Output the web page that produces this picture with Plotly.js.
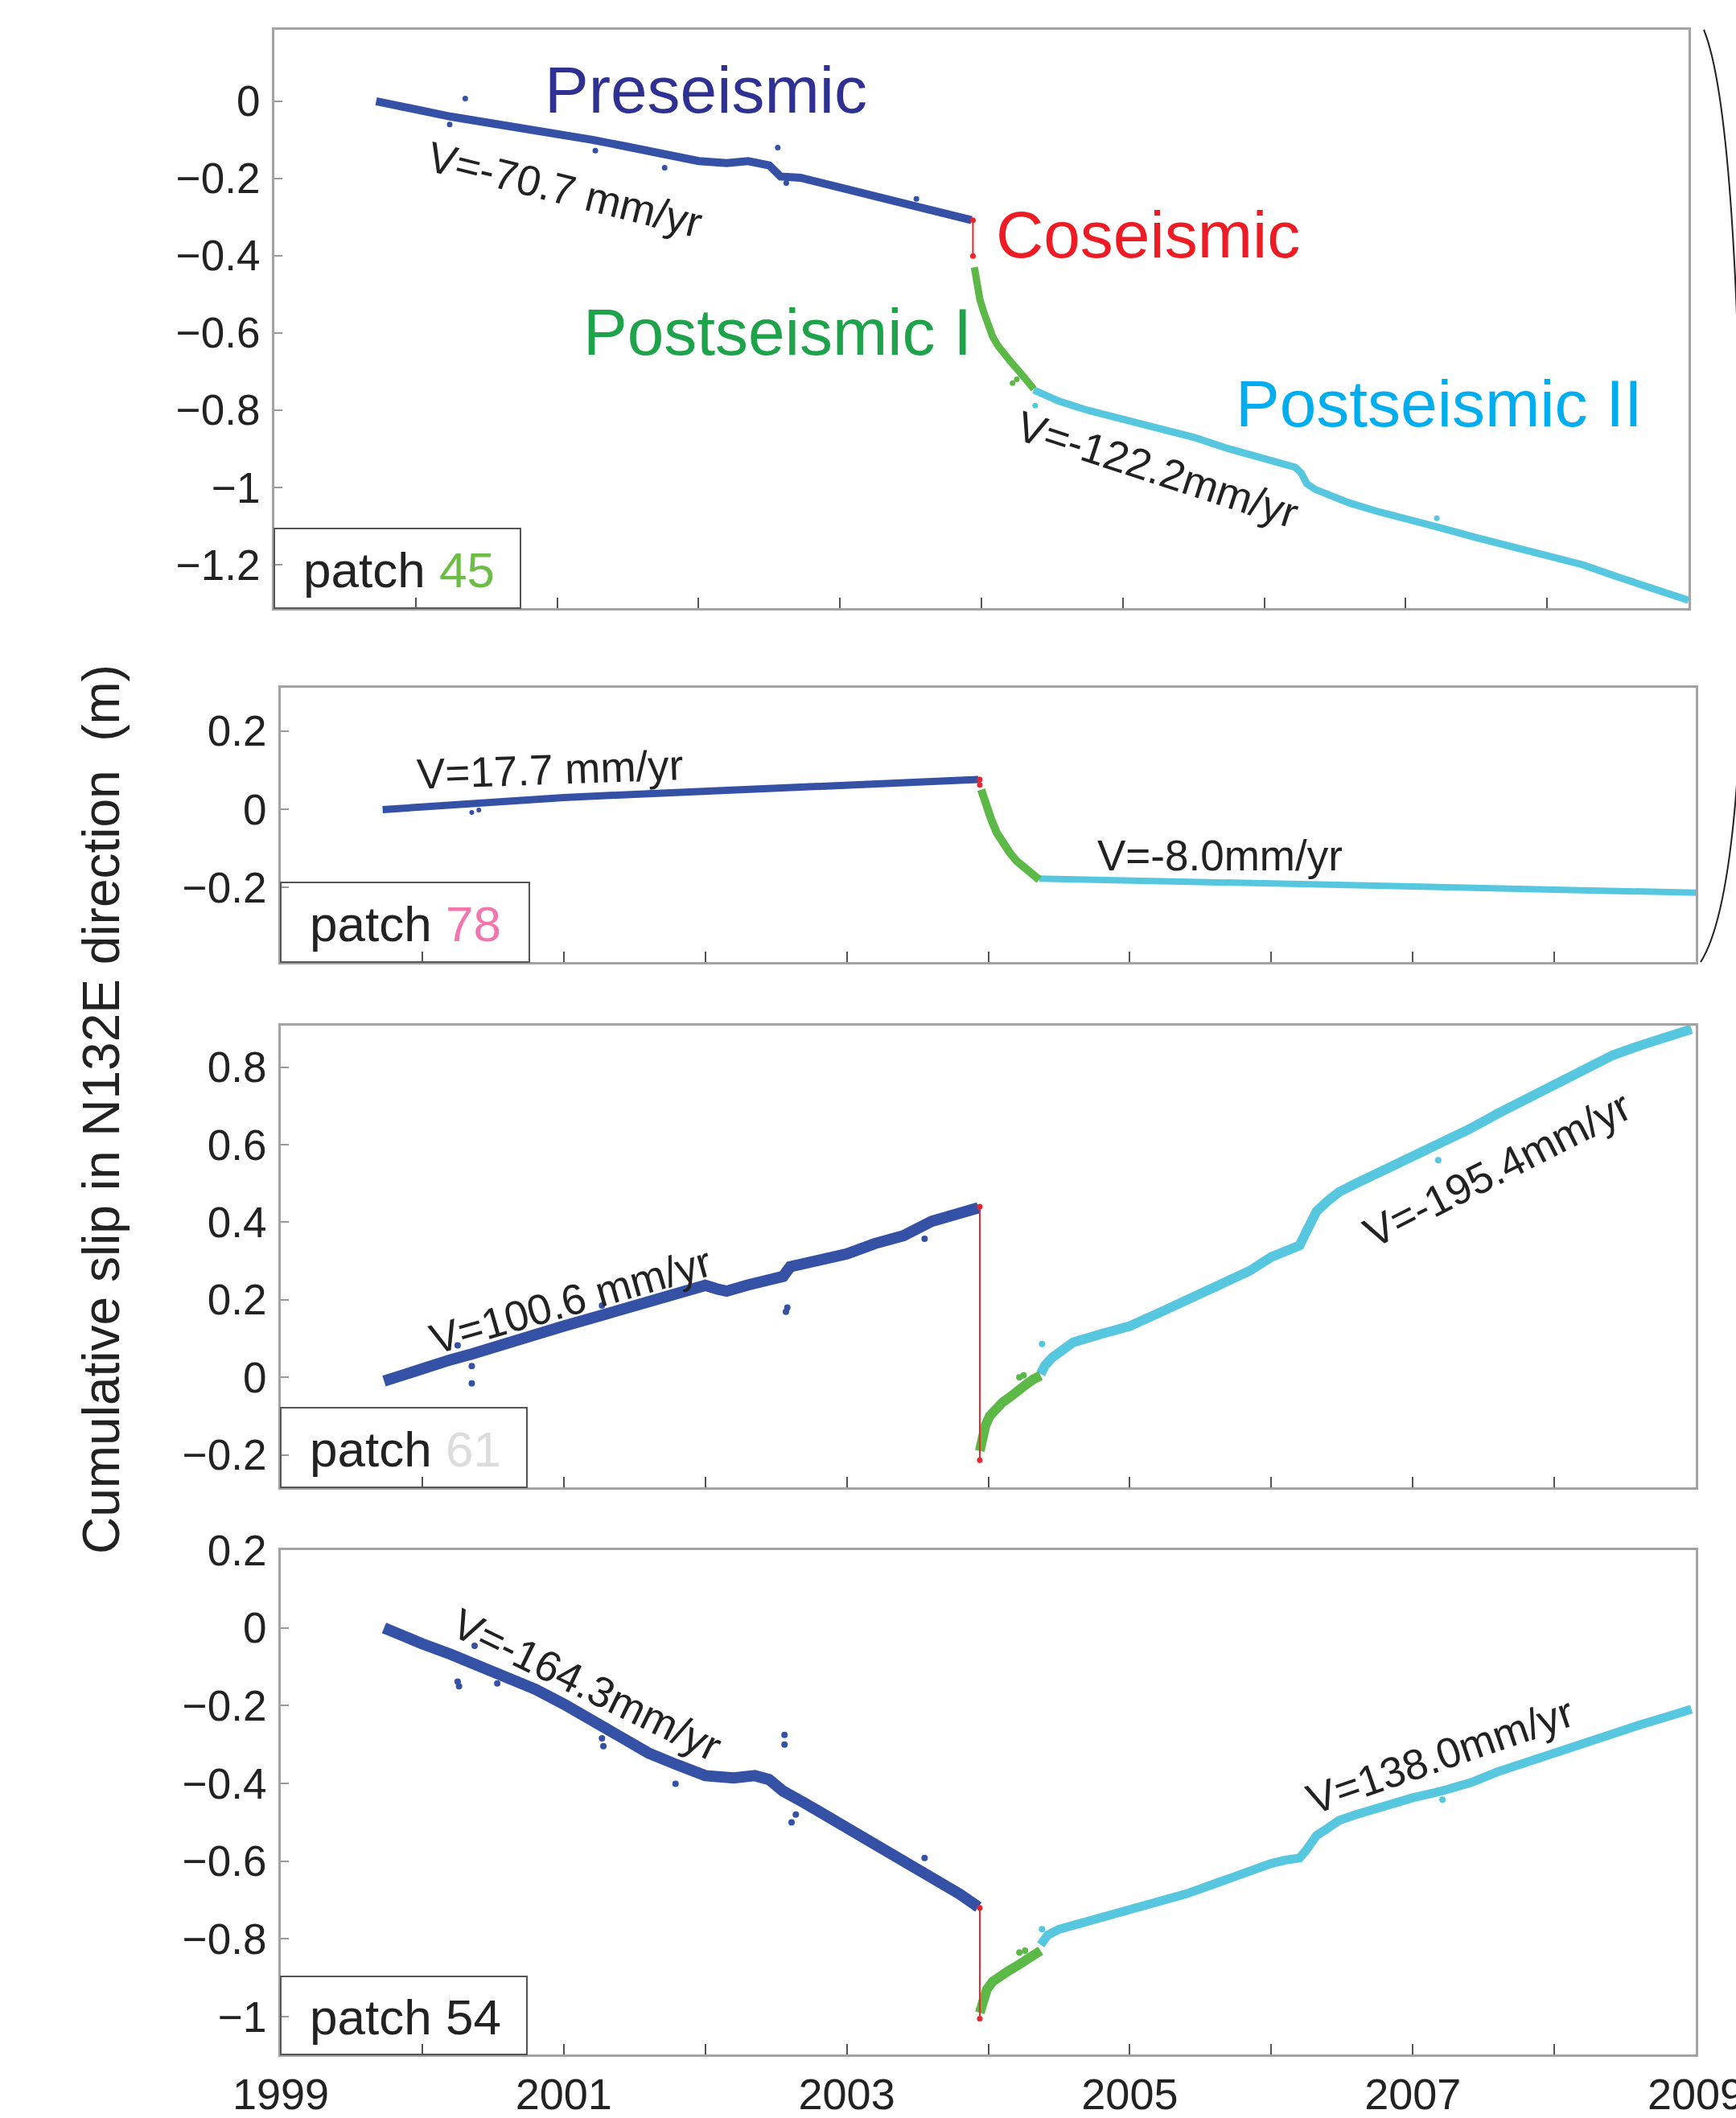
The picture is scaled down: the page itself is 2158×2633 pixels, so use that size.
<!DOCTYPE html>
<html>
<head>
<meta charset="utf-8">
<script src="https://cdn.plot.ly/plotly-3.0.1.min.js"></script>
<style>
  html, body { margin: 0; padding: 0; background: #ffffff; }
  #chart { width: 2158px; height: 2633px; }
</style>
</head>
<body>
<div id="chart"></div>
<script>
// ---- Cumulative slip time series (m) for four fault patches ----
// Phases: preseismic (blue), coseismic step (red), postseismic I (green), postseismic II (cyan)

// patch 45
const pre45_t = [1999.72, 2000.0, 2000.25, 2000.5, 2000.75, 2001.0, 2001.25, 2001.5, 2001.75, 2002.0, 2002.2, 2002.35, 2002.5, 2002.58, 2002.72, 2003.0, 2003.27, 2003.54, 2003.78, 2003.93];
const pre45_y = [0.0, -0.022, -0.04, -0.055, -0.069, -0.083, -0.1, -0.118, -0.137, -0.155, -0.16, -0.155, -0.166, -0.195, -0.198, -0.223, -0.249, -0.269, -0.293, -0.308];
const pre45_out_t = [2000.35, 2000.24, 2001.27, 2001.76, 2002.56, 2002.62, 2003.54];
const pre45_out_y = [0.007, -0.06, -0.128, -0.172, -0.12, -0.212, -0.253];
const co45_t = [2003.94, 2003.94];
const co45_y = [-0.308, -0.401];
const postI45_t = [2003.95, 2003.97, 2003.99, 2004.02, 2004.05, 2004.08, 2004.12, 2004.17, 2004.22, 2004.28, 2004.33, 2004.37];
const postI45_y = [-0.43, -0.48, -0.515, -0.55, -0.585, -0.61, -0.635, -0.66, -0.68, -0.705, -0.73, -0.745];
const postI45_out_t = [2004.22, 2004.25];
const postI45_out_y = [-0.73, -0.72];
const postII45_t = [2004.37, 2004.45, 2004.55, 2004.75, 2005.0, 2005.25, 2005.5, 2005.75, 2006.0, 2006.15, 2006.22, 2006.26, 2006.3, 2006.36, 2006.44, 2006.6, 2006.8, 2007.0, 2007.25, 2007.5, 2007.75, 2008.0, 2008.25, 2008.5, 2008.75, 2009.0];
const postII45_y = [-0.748, -0.762, -0.777, -0.8, -0.822, -0.845, -0.87, -0.9, -0.925, -0.94, -0.948, -0.962, -0.99, -1.005, -1.018, -1.04, -1.062, -1.08, -1.105, -1.13, -1.152, -1.175, -1.2, -1.232, -1.262, -1.292];
const postII45_out_t = [2004.38, 2007.22];
const postII45_out_y = [-0.788, -1.08];

// patch 78
const pre78_t = [1999.72, 2000.0, 2000.25, 2000.5, 2000.75, 2001.0, 2001.5, 2002.0, 2002.5, 2003.0, 2003.5, 2003.93];
const pre78_y = [-0.001, 0.006, 0.012, 0.018, 0.024, 0.03, 0.038, 0.045, 0.053, 0.06, 0.068, 0.076];
const pre78_out_t = [2000.35, 2000.4];
const pre78_out_y = [-0.008, -0.002];
const co78_t = [2003.94, 2003.94];
const co78_y = [0.076, 0.062];
const postI78_t = [2003.95, 2003.97, 2003.99, 2004.02, 2004.06, 2004.1, 2004.15, 2004.2, 2004.26, 2004.31, 2004.36];
const postI78_y = [0.05, 0.025, 0.003, -0.025, -0.06, -0.086, -0.11, -0.132, -0.152, -0.168, -0.18];
const postII78_t = [2004.36, 2005.0, 2006.0, 2006.3, 2007.0, 2008.0, 2009.0];
const postII78_y = [-0.177, -0.181, -0.189, -0.191, -0.197, -0.205, -0.213];

// patch 61
const pre61_t = [1999.73, 1999.85, 2000.0, 2000.2, 2000.35, 2000.5, 2000.75, 2001.0, 2001.25, 2001.5, 2001.75, 2002.0, 2002.08, 2002.15, 2002.3, 2002.45, 2002.55, 2002.6, 2002.75, 2003.0, 2003.2, 2003.4, 2003.6, 2003.8, 2003.93];
const pre61_y = [-0.01, 0.005, 0.025, 0.045, 0.06, 0.075, 0.105, 0.132, 0.158, 0.185, 0.21, 0.237, 0.228, 0.222, 0.238, 0.25, 0.26, 0.285, 0.295, 0.318, 0.345, 0.365, 0.402, 0.425, 0.437];
const pre61_out_t = [2000.25, 2000.35, 2000.35, 2001.27, 2002.57, 2002.58, 2003.55];
const pre61_out_y = [0.082, 0.029, -0.016, 0.185, 0.169, 0.18, 0.357];
const co61_t = [2003.94, 2003.94];
const co61_y = [0.44, -0.214];
const postI61_t = [2003.94, 2003.96, 2003.98, 2004.01, 2004.05, 2004.1, 2004.15, 2004.2, 2004.27, 2004.32, 2004.37];
const postI61_y = [-0.19, -0.15, -0.125, -0.1, -0.08, -0.065, -0.052, -0.035, -0.018, -0.005, 0.004];
const postI61_out_t = [2004.22, 2004.25];
const postI61_out_y = [0.0, 0.005];
const postII61_t = [2004.37, 2004.4, 2004.45, 2004.6, 2004.8, 2005.0, 2005.2, 2005.4, 2005.6, 2005.72, 2005.85, 2006.0, 2006.1, 2006.2, 2006.24, 2006.28, 2006.32, 2006.4, 2006.48, 2006.6, 2006.8, 2007.0, 2007.2, 2007.4, 2007.6, 2007.8, 2008.0, 2008.2, 2008.41, 2008.6, 2008.8, 2008.97];
const postII61_y = [0.008, 0.03, 0.05, 0.09, 0.112, 0.132, 0.165, 0.198, 0.228, 0.251, 0.275, 0.31, 0.325, 0.34, 0.37, 0.405, 0.428, 0.455, 0.478, 0.5, 0.535, 0.566, 0.6, 0.64, 0.68, 0.718, 0.756, 0.79, 0.83, 0.855, 0.88, 0.898];
const postII61_out_t = [2004.38, 2007.18];
const postII61_out_y = [0.086, 0.56];

// patch 54
const pre54_t = [1999.73, 1999.85, 2000.0, 2000.2, 2000.4, 2000.6, 2000.8, 2001.0, 2001.2, 2001.4, 2001.6, 2001.8, 2002.0, 2002.2, 2002.35, 2002.45, 2002.55, 2002.7, 2002.85, 2003.0, 2003.2, 2003.4, 2003.6, 2003.8, 2003.93];
const pre54_y = [0.0, -0.02, -0.041, -0.068, -0.097, -0.124, -0.158, -0.196, -0.238, -0.275, -0.322, -0.352, -0.38, -0.386, -0.38, -0.39, -0.42, -0.45, -0.482, -0.508, -0.553, -0.598, -0.641, -0.685, -0.718];
const pre54_out_t = [2000.25, 2000.26, 2000.37, 2000.53, 2001.27, 2001.28, 2001.79, 2002.56, 2002.56, 2002.61, 2002.64, 2003.55];
const pre54_out_y = [-0.138, -0.15, -0.046, -0.143, -0.284, -0.304, -0.401, -0.275, -0.3, -0.5, -0.48, -0.592];
const co54_t = [2003.94, 2003.94];
const co54_y = [-0.72, -1.005];
const postI54_t = [2003.94, 2003.96, 2003.99, 2004.03, 2004.08, 2004.13, 2004.19, 2004.25, 2004.31, 2004.37];
const postI54_y = [-0.99, -0.955, -0.93, -0.91, -0.895, -0.885, -0.872, -0.86, -0.845, -0.83];
const postI54_out_t = [2004.22, 2004.26];
const postI54_out_y = [-0.835, -0.83];
const postII54_t = [2004.37, 2004.42, 2004.5, 2004.6, 2004.8, 2005.0, 2005.2, 2005.4, 2005.6, 2005.8, 2006.0, 2006.1, 2006.2, 2006.24, 2006.28, 2006.32, 2006.4, 2006.48, 2006.6, 2006.8, 2007.0, 2007.2, 2007.41, 2007.6, 2007.8, 2008.0, 2008.2, 2008.41, 2008.6, 2008.8, 2008.97];
const postII54_y = [-0.815, -0.79, -0.775, -0.765, -0.746, -0.728, -0.706, -0.684, -0.658, -0.631, -0.606, -0.597, -0.592, -0.575, -0.55, -0.534, -0.515, -0.495, -0.48, -0.458, -0.437, -0.42, -0.398, -0.37, -0.345, -0.32, -0.295, -0.272, -0.25, -0.228, -0.209];
const postII54_out_t = [2004.38, 2007.21];
const postII54_out_y = [-0.775, -0.442];

// axis ticks
const yearTicks = [1999, 2000, 2001, 2002, 2003, 2004, 2005, 2006, 2007, 2008, 2009];
const yearLabels = ['1999', '', '2001', '', '2003', '', '2005', '', '2007', '', '2009'];
const blankLabels = ['', '', '', '', '', '', '', '', '', '', ''];

// rates
const rateLabels = ['V=-70.7 mm/yr', 'V=-122.2mm/yr', 'V=17.7 mm/yr', 'V=-8.0mm/yr',
                    'V=100.6 mm/yr', 'V=-195.4mm/yr', 'V=-164.3mm/yr', 'V=138.0mm/yr'];

// ---- styling ----
const W = 2158, H = 2633;
const fx = p => p / W;
const fy = p => 1 - p / H;
const FONT = 'Liberation Sans, Arial, Helvetica, sans-serif';
const C_PRE = '#3451a6', C_CO = '#e8262b', C_P1 = '#5cb947', C_P2 = '#57c6df';

function band(t, y, color, width, ax) {
  return { type: 'scatter', mode: 'lines', x: t, y: y, xaxis: 'x' + ax, yaxis: 'y' + ax,
           line: { color: color, width: width, shape: 'linear' }, showlegend: false, hoverinfo: 'skip' };
}
function dots(t, y, color, size, ax) {
  return { type: 'scatter', mode: 'markers', x: t, y: y, xaxis: 'x' + ax, yaxis: 'y' + ax,
           marker: { color: color, size: size }, showlegend: false, hoverinfo: 'skip' };
}
function step(t, y, ax) {
  return { type: 'scatter', mode: 'lines+markers', x: t, y: y, xaxis: 'x' + ax, yaxis: 'y' + ax,
           line: { color: C_CO, width: 2 }, marker: { color: C_CO, size: 7 }, showlegend: false, hoverinfo: 'skip' };
}

const traces = [
  band(pre45_t, pre45_y, C_PRE, 10, ''), dots(pre45_out_t, pre45_out_y, C_PRE, 7, ''),
  band(postII45_t, postII45_y, C_P2, 9, ''), dots(postII45_out_t, postII45_out_y, C_P2, 7, ''),
  band(postI45_t, postI45_y, C_P1, 9, ''), dots(postI45_out_t, postI45_out_y, C_P1, 7, ''),
  step(co45_t, co45_y, ''),

  band(pre78_t, pre78_y, C_PRE, 9, '2'), dots(pre78_out_t, pre78_out_y, C_PRE, 6, '2'),
  band(postII78_t, postII78_y, C_P2, 8, '2'),
  band(postI78_t, postI78_y, C_P1, 10, '2'),
  step(co78_t, co78_y, '2'),

  band(pre61_t, pre61_y, C_PRE, 14, '3'), dots(pre61_out_t, pre61_out_y, C_PRE, 8, '3'),
  band(postII61_t, postII61_y, C_P2, 12, '3'), dots(postII61_out_t, postII61_out_y, C_P2, 8, '3'),
  band(postI61_t, postI61_y, C_P1, 12, '3'), dots(postI61_out_t, postI61_out_y, C_P1, 8, '3'),
  step(co61_t, co61_y, '3'),

  band(pre54_t, pre54_y, C_PRE, 14, '4'), dots(pre54_out_t, pre54_out_y, C_PRE, 8, '4'),
  band(postII54_t, postII54_y, C_P2, 11, '4'), dots(postII54_out_t, postII54_out_y, C_P2, 8, '4'),
  band(postI54_t, postI54_y, C_P1, 12, '4'), dots(postI54_out_t, postI54_out_y, C_P1, 8, '4'),
  step(co54_t, co54_y, '4')
];

function xAxis(domain, anchor, labels) {
  return {
    domain: domain, anchor: anchor, range: [1999, 2009], tickmode: 'array',
    tickvals: yearTicks, ticktext: labels, ticks: 'inside', ticklen: 13, tickwidth: 2, tickcolor: '#555',
    showline: true, mirror: true, linecolor: '#a3a3a3', linewidth: 3, showgrid: false, zeroline: false,
    ticklabeloverflow: 'allow',
    tickfont: { family: FONT, size: 54, color: '#222' }, fixedrange: true
  };
}
function yAxis(domain, anchor, range, dtick) {
  return {
    domain: domain, anchor: anchor, range: range, dtick: dtick, tick0: 0, ticks: 'inside', ticklen: 10,
    tickwidth: 2, tickcolor: '#999', showline: true, mirror: true, linecolor: '#a3a3a3', linewidth: 3,
    showgrid: false, zeroline: false, ticklabelstandoff: 4, ticklabeloverflow: 'allow',
    tickfont: { family: FONT, size: 53, color: '#222' }, fixedrange: true
  };
}

const xd1 = [fx(341), fx(2099)];
const xd = [fx(349), fx(2108)];

const layout = {
  width: W, height: H, paper_bgcolor: '#ffffff', plot_bgcolor: '#ffffff',
  margin: { l: 0, r: 0, t: 0, b: 0, pad: 0 }, showlegend: false,
  xaxis: xAxis(xd1, 'y', blankLabels),
  yaxis: yAxis([fy(756), fy(37)], 'x', [-1.3125, 0.185], 0.2),
  xaxis2: xAxis(xd, 'y2', blankLabels),
  yaxis2: yAxis([fy(1196), fy(855)], 'x2', [-0.39, 0.31], 0.2),
  xaxis3: xAxis(xd, 'y3', blankLabels),
  yaxis3: yAxis([fy(1849), fy(1275)], 'x3', [-0.284, 0.907], 0.2),
  xaxis4: xAxis(xd, 'y4', yearLabels),
  yaxis4: yAxis([fy(2554), fy(1927)], 'x4', [-1.097, 0.2], 0.2),
  shapes: [],
  annotations: []
};

// patch label boxes
const boxes = [
  [341, 647, 657, 756, 'patch <span style="color:#6cbd45">45</span>'],
  [349, 658, 1097, 1196, 'patch <span style="color:#f276ad">78</span>'],
  [349, 655, 1750, 1849, 'patch <span style="color:#dcdcdc">61</span>'],
  [349, 655, 2457, 2554, 'patch 54']
];
boxes.forEach(b => {
  layout.shapes.push({ type: 'rect', xref: 'paper', yref: 'paper', x0: fx(b[0]), x1: fx(b[1]),
    y0: fy(b[3]), y1: fy(b[2]), line: { color: '#555', width: 2 }, fillcolor: 'rgba(255,255,255,0)', layer: 'above' });
  layout.annotations.push({ xref: 'paper', yref: 'paper', x: fx(b[0] + 34), y: fy((b[2] + b[3]) / 2 + 2),
    xanchor: 'left', yanchor: 'middle', showarrow: false, text: b[4],
    font: { family: FONT, size: 62, color: '#222' } });
});

// bracket grouping the two upper panels
layout.shapes.push({
  type: 'path', xref: 'paper', yref: 'paper', layer: 'above',
  path: 'M ' + fx(2118) + ',' + fy(37) + ' Q ' + fx(2152) + ',' + fy(120) + ' ' + fx(2162) + ',' + fy(480) +
        ' L ' + fx(2162) + ',' + fy(930) + ' Q ' + fx(2150) + ',' + fy(1140) + ' ' + fx(2114) + ',' + fy(1196),
  line: { color: '#222', width: 2 }
});

// phase names
const phaseNotes = [
  ['Preseismic', 877, 112, '#2e3192'],
  ['Coseismic', 1427, 291, '#ed1c24'],
  ['Postseismic I', 966, 412, '#1ea34a'],
  ['Postseismic II', 1789, 501, '#00aeef']
];
phaseNotes.forEach(p => layout.annotations.push({
  xref: 'paper', yref: 'paper', x: fx(p[1]), y: fy(p[2]), xanchor: 'center', yanchor: 'middle',
  showarrow: false, text: p[0], font: { family: FONT, size: 82, color: p[3] }
}));

// rate labels
const ratePos = [[702, 235, 14], [1439, 584, 18], [683, 956, -2], [1516, 1063, 0],
                 [709, 1617, -16], [1861, 1453, -27], [730, 2094, 26], [1790, 2182, -19]];
rateLabels.forEach((txt, i) => layout.annotations.push({
  xref: 'paper', yref: 'paper', x: fx(ratePos[i][0]), y: fy(ratePos[i][1]), xanchor: 'center', yanchor: 'middle',
  showarrow: false, text: txt, textangle: ratePos[i][2], font: { family: FONT, size: 53, color: '#222' }
}));

// shared y-axis title
layout.annotations.push({
  xref: 'paper', yref: 'paper', x: fx(126), y: fy(1379), xanchor: 'center', yanchor: 'middle',
  showarrow: false, textangle: -90, text: 'Cumulative slip in N132E direction \u00a0(m)',
  font: { family: FONT, size: 64, color: '#222' }
});

Plotly.newPlot('chart', traces, layout, { staticPlot: true, displayModeBar: false });
</script>
</body>
</html>
